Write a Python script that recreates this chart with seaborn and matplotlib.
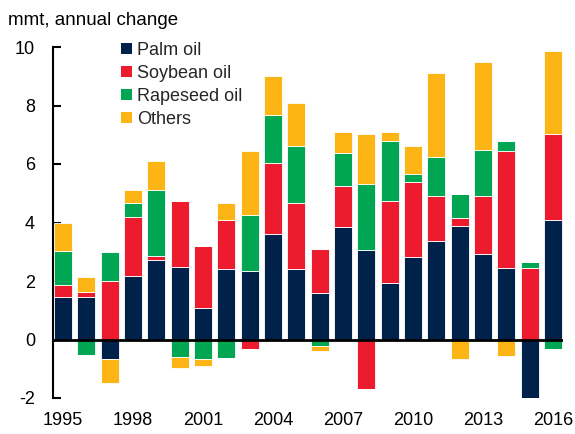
import numpy as np
import pandas as pd
import seaborn as sns
import matplotlib.pyplot as plt
from matplotlib.patches import Patch

# annual change in production, mmt
years = list(range(1995, 2017))
palm = [1.47, 1.46, -0.68, 2.17, 2.72, 2.49, 1.09, 2.42, 2.34, 3.60, 2.40,
        1.60, 3.85, 3.06, 1.94, 2.82, 3.37, 3.88, 2.93, 2.44, -2.07, 4.08]
soybean = [0.41, 0.16, 2.00, 2.03, 0.13, 2.23, 2.11, 1.68, -0.32, 2.43, 2.28,
           1.48, 1.40, -1.68, 2.80, 2.55, 1.54, 0.29, 1.96, 3.99, 2.46, 2.94]
rapeseed = [1.13, -0.54, 1.00, 0.46, 2.26, -0.61, -0.68, -0.63, 1.91, 1.65, 1.94,
            -0.21, 1.14, 2.25, 2.05, 0.28, 1.33, 0.82, 1.59, 0.34, 0.19, -0.31]
others = [0.96, 0.51, -0.81, 0.45, 0.99, -0.38, -0.22, 0.56, 2.20, 1.34, 1.45,
          -0.19, 0.69, 1.71, 0.32, 0.97, 2.87, -0.68, 3.02, -0.57, 0.00, 2.84]

series_names = ["Palm oil", "Soybean oil", "Rapeseed oil", "Others"]
colors = ["#00224A", "#EC1C2E", "#00A651", "#FDB515"]
yticks = [-2, 0, 2, 4, 6, 8, 10]

sns.set_theme(style="white")
plt.rcParams["font.family"] = ["Liberation Sans", "DejaVu Sans"]
plt.rcParams["axes.unicode_minus"] = False

fig = plt.figure(figsize=(5.75, 4.34), dpi=100)
ax = fig.add_axes([53 / 575, 1 - 398 / 434, (563 - 53) / 575, (398 - 47) / 434])

# stack positives upward and negatives downward from zero
pos_base = np.zeros(len(years))
neg_base = np.zeros(len(years))
for name, vals, color in zip(series_names, [palm, soybean, rapeseed, others], colors):
    vals = np.array(vals)
    pos = np.where(vals > 0, vals, 0.0)
    neg = np.where(vals < 0, vals, 0.0)
    df = pd.DataFrame({"year": years, "pos": pos, "neg": neg})
    for col, base in [("pos", pos_base), ("neg", neg_base)]:
        sns.barplot(data=df, x="year", y=col, bottom=base.copy(), color=color,
                    saturation=1, width=0.76, edgecolor="white", linewidth=0.6,
                    errorbar=None, ax=ax)
    pos_base += pos
    neg_base += neg

ax.axhline(0, color="black", lw=2, zorder=5)

ax.set_xlim(-0.43, 21.43)
ax.set_ylim(-2, 10)
ax.set_yticks(yticks)
ax.set_xticks(range(0, len(years), 3))
ax.set_xticklabels([str(y) for y in years[::3]])
ax.set_xlabel("")
ax.set_ylabel("")

for s in ["top", "right", "bottom"]:
    ax.spines[s].set_visible(False)
ax.spines["left"].set_color("black")
ax.spines["left"].set_linewidth(1.5)

ax.tick_params(axis="y", left=True, direction="in", length=6, width=1.5,
               color="black", labelsize=13, labelcolor="black", pad=13)
ax.tick_params(axis="x", bottom=False, length=0, labelsize=13,
               labelcolor="black", pad=10)

fig.text(8 / 575, 1 - 25 / 434, "mmt, annual change", fontsize=13.5,
         color="black", va="baseline", ha="left")

handles = [Patch(facecolor=c, edgecolor="none", label=n) for n, c in zip(series_names, colors)]
ax.legend(handles=handles, loc="upper left", bbox_to_anchor=(121 / 575, 1 - 42 / 434),
          bbox_transform=fig.transFigure, frameon=False, fontsize=13,
          handlelength=0.6, handleheight=0.6, handletextpad=0.3,
          labelspacing=0.33, borderpad=0, borderaxespad=0)

fig.savefig("out.png", dpi=100)
